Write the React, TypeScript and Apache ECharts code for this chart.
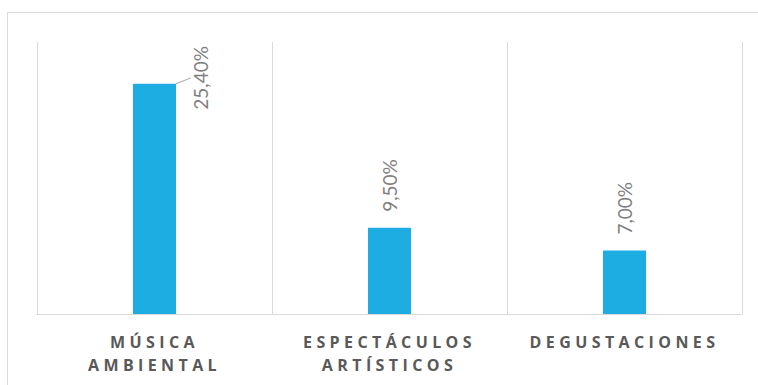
import React, { useEffect, useRef } from "react";
import * as echarts from "echarts";

const categories = ["MÚSICA\nAMBIENTAL", "ESPECTÁCULOS\nARTÍSTICOS", "DEGUSTACIONES"];
const values = [25.4, 9.5, 7.0];
const valueLabels = ["25,40%", "9,50%", "7,00%"];

export default function App() {
  const ref = useRef<HTMLDivElement>(null);
  useEffect(() => {
    if (!ref.current) return;
    const chart = echarts.init(ref.current, null, { renderer: "svg" });
    chart.setOption({
      animation: false,
      graphic: [
        {
          type: "rect",
          shape: { x: 7.5, y: 12.5, width: 820, height: 420 },
          style: { fill: "none", stroke: "#d9d9d9", lineWidth: 1 },
          silent: true,
        },
      ],
      grid: { left: 37, right: 16, top: 42, bottom: 71 },
      xAxis: {
        type: "category",
        data: categories,
        axisLine: { lineStyle: { color: "#d9d9d9", width: 1 } },
        axisTick: { show: false },
        splitLine: { show: true, lineStyle: { color: "#d9d9d9", width: 1 } },
        axisLabel: {
          interval: 0,
          margin: 16,
          color: "#595959",
          fontFamily: "Open Sans",
          fontWeight: "bold",
          fontSize: 16,
          lineHeight: 23,
        },
      },
      yAxis: { type: "value", min: 0, max: 30, show: false, splitLine: { show: false } },
      series: [
        {
          type: "bar",
          data: values.map((v, i) => ({ value: v, labelLine: { show: i === 0 } })),
          barWidth: 43,
          itemStyle: { color: "#1eade3" },
          label: {
            show: true,
            position: "top",
            distance: 16,
            rotate: 90,
            align: "left",
            verticalAlign: "middle",
            color: "#7f7f7f",
            fontFamily: "Lato",
            fontWeight: "normal",
            fontSize: 19,
            formatter: (p: any) => valueLabels[p.dataIndex],
          },
          labelLine: { show: true, lineStyle: { color: "#a6a6a6", width: 1 } },
          labelLayout: (p: any) => (p.dataIndex === 0 ? { dx: -42, dy: 46 } : {}),
        },
      ],
    });
    const lines = new Set<string>();
    categories.forEach((c) => c.split("\n").forEach((l) => lines.add(l)));
    ref.current.querySelectorAll("text").forEach((t) => {
      if (lines.has((t.textContent || "").trim())) {
        t.setAttribute("letter-spacing", "4.4");
      }
    });
    return () => chart.dispose();
  }, []);
  return (
    <div
      ref={ref}
      style={{ position: "fixed", left: 0, top: 0, width: 758, height: 385, background: "#fff" }}
    />
  );
}
